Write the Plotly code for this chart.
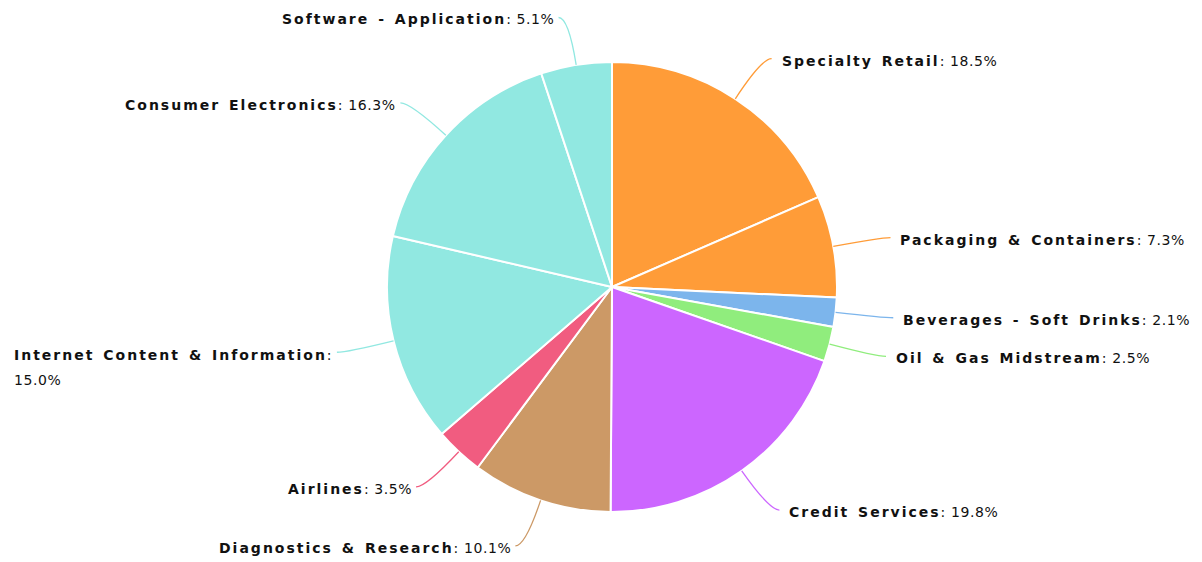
import math
import json
import plotly.graph_objects as go

categories = ["Specialty Retail", "Packaging & Containers", "Beverages - Soft Drinks",
              "Oil & Gas Midstream", "Credit Services", "Diagnostics & Research",
              "Airlines", "Internet Content & Information", "Consumer Electronics",
              "Software - Application"]
shares = [18.5, 7.3, 2.1, 2.5, 19.8, 10.1, 3.5, 15.0, 16.3, 5.1]
colors = ["#ff9c38", "#ff9c38", "#7cb5ec", "#90ed7d", "#cc66ff", "#cc9966",
          "#f15c80", "#91e8e1", "#91e8e1", "#91e8e1"]
wrapped = {"Internet Content & Information"}

W, H = 1202, 562
CX, CY, R = 612, 287, 225
L1, L2 = 48, 10
GAP_R, GAP_L, DY = 8, 2.5, 2

fig = go.Figure()
fig.add_trace(go.Pie(
    labels=categories, values=shares, sort=False, direction="clockwise", rotation=0,
    marker=dict(colors=colors, line=dict(color="#ffffff", width=2)),
    textinfo="none", hoverinfo="label+percent", showlegend=False,
    domain=dict(x=[(CX - R) / W, (CX + R) / W], y=[1 - (CY + R) / H, 1 - (CY - R) / H]),
))

def px(x, y):
    return x / W, 1 - y / H

total = sum(shares)
cum = 0.0
shapes, annotations = [], []
relayout_fix = {"font.size": 14}
for name, v, c in zip(categories, shares, colors):
    mid = (cum + v / 2) / total * 2 * math.pi
    cum += v
    s, co = math.sin(mid), math.cos(mid)
    ex, ey = CX + R * s, CY - R * co
    kx, ky = CX + (R + L1) * s, CY - (R + L1) * co
    side = 1 if s >= 0 else -1
    tx, ty = kx + side * L2, ky
    p0, p1, p2 = px(ex, ey), px(kx, ky), px(tx, ty)
    shapes.append(dict(type="path", xref="paper", yref="paper",
                       path=f"M {p0[0]},{p0[1]} Q {p1[0]},{p1[1]} {p2[0]},{p2[1]}",
                       line=dict(color=c, width=1.3)))
    pct = f"{v / total * 100:.1f}%"
    gap = GAP_R if side > 0 else GAP_L
    anchor = "left" if side > 0 else "right"
    if name in wrapped:
        text = (f"<span style='font-size:14px'><b>{name}</b>:</span><br>"
                f"<span style='font-size:14px'>{pct}</span>")
        ax, ay = px(tx + side * gap, ty + DY + 1 + 12.5)
        relayout_fix[f"annotations[{len(annotations)}].font.size"] = 19.2
        annotations.append(dict(x=ax, y=ay, xref="paper", yref="paper", text=text,
                                showarrow=False, xanchor=anchor, yanchor="middle",
                                align="left", font=dict(size=19.21)))
    else:
        text = f"<b>{name}</b>: {pct}"
        ax, ay = px(tx + side * gap, ty + DY)
        annotations.append(dict(x=ax, y=ay, xref="paper", yref="paper", text=text,
                                showarrow=False, xanchor=anchor, yanchor="middle"))

fig.update_layout(
    width=W, height=H, margin=dict(l=0, r=0, t=0, b=0),
    paper_bgcolor="#ffffff", plot_bgcolor="#ffffff",
    font=dict(family="DejaVu Sans", size=14.01, color="#111111"),
    shapes=shapes, annotations=annotations,
)

post = """
var st = document.createElement('style');
st.textContent = 'body{margin:0 !important} .annotation-text{letter-spacing:0.6px} ' +
                 '.annotation-text tspan[style*="bold"]{letter-spacing:2px;word-spacing:2px}';
document.head.appendChild(st);
Plotly.relayout(document.getElementById('{plot_id}'), """ + json.dumps(relayout_fix) + """);
"""
fig.write_html("out.html", post_script=post, config={"displayModeBar": False})
